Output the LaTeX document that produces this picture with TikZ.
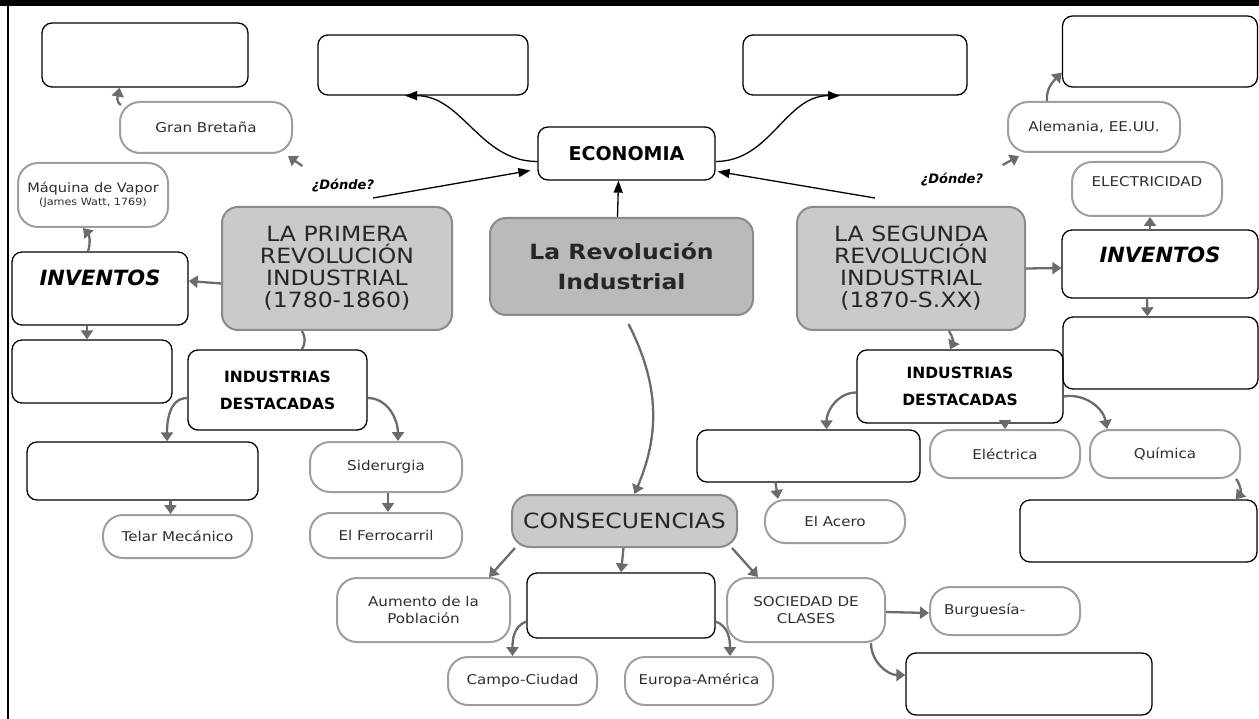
\documentclass[tikz,border=0pt]{standalone}
\usepackage{fontspec}
\setmainfont{DejaVu Sans}
\newfontfamily\widefont{DejaVu Sans}[FakeStretch=1.12]
\usetikzlibrary{arrows.meta}
\definecolor{boxgray}{HTML}{CACACA}
\definecolor{maingray}{HTML}{BABABA}
\definecolor{edgegray}{HTML}{8A8A8A}
\definecolor{linegray}{HTML}{6B6B6B}
\definecolor{pale}{HTML}{9E9E9E}
\definecolor{ink}{HTML}{2E2E2E}

\begin{document}
\begin{tikzpicture}[x=1pt,y=1pt]
\useasboundingbox (0,0) rectangle (1259,-719);
\fill (0,0) rectangle (1259,-6);
\draw[line width=2.5pt] (8,-6) -- (8,-719);
\tikzstyle{every node} = [inner sep=0pt, align=center, rounded corners=10pt]
\tikzstyle{blank} = [draw=black, line width=1.3pt]
\tikzstyle{pill} = [draw=pale, line width=2pt, rounded corners=20pt, text=ink, font=\widefont\fontsize{13.5}{17}\selectfont]
\tikzstyle{main} = [draw=edgegray, line width=2pt, fill=boxgray, rounded corners=16pt, text=black!85, font=\widefont\fontsize{21}{22}\selectfont]
\tikzstyle{head} = [blank, font=\bfseries\fontsize{15.5}{27}\selectfont]
\tikzstyle{inv} = [blank, font=\bfseries\itshape\fontsize{21}{24}\selectfont]
\tikzstyle{grayarrow} = [draw=linegray, line width=2.3pt, -{Triangle[length=9pt,width=12pt]}]
\tikzstyle{blackarrow} = [draw=black, line width=1.3pt, -{Triangle[length=12pt,width=9pt]}]
% top row
\node[blank, minimum width=206pt, minimum height=64pt] (1) at (145,-55) {};
\node[blank, minimum width=210pt, minimum height=60pt] (2) at (423,-65) {};
\node[blank, minimum width=224pt, minimum height=60pt] (3) at (855,-65) {};
\node[blank, minimum width=195pt, minimum height=71pt] (4) at (1160,-51.5) {};
\node[pill, minimum width=172pt, minimum height=51pt] (5) at (206,-127.5) {Gran Bretaña};
\node[pill, minimum width=150pt, minimum height=64pt, font=\widefont\fontsize{13}{13}\selectfont] (6) at (93,-195) {Máquina de Vapor\\{\fontsize{10}{12}\selectfont (James Watt, 1769)}};
\node[blank, minimum width=177pt, minimum height=53pt, font=\bfseries\fontsize{19}{22}\selectfont] (7) at (626.5,-153.5) {ECONOMIA};
\node[pill, minimum width=172pt, minimum height=50pt] (8) at (1094,-127) {Alemania, EE.UU.};
\node[pill, minimum width=150pt, minimum height=54pt, font=\widefont\fontsize{13.5}{17}\selectfont] (9) at (1147,-189) {\raisebox{2pt}[0pt][0pt]{ELECTRICIDAD}};
% revolutions
\node[main, minimum width=230pt, minimum height=123pt] (10) at (337,-268.5) {LA PRIMERA\\REVOLUCIÓN\\INDUSTRIAL\\(1780-1860)};
\node[main, fill=maingray, minimum width=263pt, minimum height=97pt, font=\widefont\bfseries\fontsize{21}{30}\selectfont] (11) at (621.5,-266.5) {La Revolución\\Industrial};
\node[main, minimum width=228pt, minimum height=123pt] (12) at (911,-268.5) {LA SEGUNDA\\REVOLUCIÓN\\INDUSTRIAL\\(1870-S.XX)};
\node[inv, minimum width=176pt, minimum height=73pt] (13) at (100,-288.5) {\raisebox{3pt}[0pt][0pt]{INVENTOS}};
\node[inv, minimum width=196pt, minimum height=68pt] (14) at (1160,-264) {\raisebox{1.5pt}[0pt][0pt]{INVENTOS}};
\node[blank, minimum width=160pt, minimum height=63pt] (15) at (92,-371.5) {};
\node[blank, minimum width=195pt, minimum height=72pt] (16) at (1160.5,-353) {};
% industries
\node[head, minimum width=179pt, minimum height=80pt] (17) at (277.5,-390) {INDUSTRIAS\\DESTACADAS};
\node[head, minimum width=206pt, minimum height=73pt] (18) at (960,-386.5) {INDUSTRIAS\\DESTACADAS};
\node[blank, minimum width=231pt, minimum height=58pt] (19) at (142.5,-471) {};
\node[pill, minimum width=152pt, minimum height=50pt] (20) at (386,-467) {Siderurgia};
\node[pill, minimum width=149pt, minimum height=43pt] (21) at (177.5,-536.5) {Telar Mecánico};
\node[pill, minimum width=152pt, minimum height=45pt] (22) at (386,-535.5) {El Ferrocarril};
\node[blank, minimum width=223pt, minimum height=52pt] (23) at (808.5,-456) {};
\node[pill, minimum width=150pt, minimum height=48pt] (24) at (1005,-454) {Eléctrica};
\node[pill, minimum width=150pt, minimum height=48pt] (25) at (1165,-454) {Química};
\node[pill, minimum width=140pt, minimum height=43pt] (26) at (835,-521.5) {El Acero};
\node[blank, minimum width=237pt, minimum height=62pt] (27) at (1138.5,-531) {};
% consequences
\node[main, minimum width=225pt, minimum height=52pt, rounded corners=18pt] (28) at (624.5,-521) {CONSECUENCIAS};
\node[pill, minimum width=173pt, minimum height=64pt] (29) at (423.5,-610) {Aumento de la\\Población};
\node[blank, minimum width=188pt, minimum height=65pt] (30) at (621,-605.5) {};
\node[pill, minimum width=158pt, minimum height=64pt] (31) at (806,-610) {SOCIEDAD DE\\CLASES};
\node[pill, minimum width=150pt, minimum height=48pt, text width=122pt, align=left] (32) at (1005,-611) {Burguesía-};
\node[pill, minimum width=149pt, minimum height=48pt] (33) at (522.5,-681) {Campo-Ciudad};
\node[pill, minimum width=148pt, minimum height=48pt] (34) at (699,-681) {Europa-América};
\node[blank, minimum width=246pt, minimum height=62pt] (35) at (1029,-684) {};
\tikzstyle{every node} = []
\node[font=\bfseries\itshape\fontsize{13}{15}\selectfont] (36) at (343,-186) {¿Dónde?};
\node[font=\bfseries\itshape\fontsize{13}{15}\selectfont] (37) at (952,-180) {¿Dónde?};
% economia
\draw[blackarrow] ([yshift=-8pt]7.west) to[out=180,in=0] ([xshift=-18pt]2.south);
\draw[blackarrow] ([yshift=-8pt]7.east) to[out=0,in=180] ([xshift=-15pt]3.south);
\draw[blackarrow] ([xshift=-4pt]11.north) -- ([xshift=-8pt]7.south);
\draw[blackarrow] ([yshift=8pt]10.60) -- ([shift={(-7pt,-17pt)}]7.west);
\draw[blackarrow] ([yshift=8pt]12.120) -- ([shift={(2pt,-18pt)}]7.east);
% first revolution
\draw[grayarrow] ([shift={(-6pt,10pt)}]36.north west) -- ([shift={(-5pt,-2pt)}]5.south east);
\draw[grayarrow] ([xshift=2pt,yshift=-4pt]5.north west) to[out=150,in=-100] ([xshift=78pt]1.south west);
\draw[grayarrow] ([yshift=-15pt]10.west) -- ([yshift=7.5pt]13.east);
\draw[grayarrow] ([xshift=-12pt]13.north) to[bend right=30] ([xshift=-10pt]6.south);
\draw[grayarrow] ([xshift=-13pt]13.south) -- ([xshift=-5pt]15.north);
\draw[draw=linegray, line width=2.3pt] ([xshift=-35pt]10.south) to[bend left=30] ([xshift=24.5pt]17.north);
\draw[grayarrow] ([yshift=-8pt]17.west) to[out=180,in=90] ([xshift=24.5pt]19.north);
\draw[grayarrow] ([yshift=-8pt]17.east) to[out=0,in=90] ([xshift=12pt]20.north);
\draw[grayarrow] ([xshift=28pt]19.south) -- ([xshift=-7pt]21.north);
\draw[grayarrow] ([xshift=2pt]20.south) -- ([xshift=2pt]22.north);
% second revolution
\draw[grayarrow] ([shift={(16pt,5pt)}]37.north east) -- ([shift={(12pt,-3pt)}]8.south west);
\draw[grayarrow] ([xshift=40pt]8.north west) to[out=95,in=-135] ([yshift=15pt]4.south west);
\draw[grayarrow] (12.east) -- ([yshift=-4pt]14.west);
\draw[grayarrow] ([xshift=-10pt]14.north) -- ([xshift=3pt]9.south);
\draw[grayarrow] ([xshift=-13pt]14.south) -- ([xshift=-13pt]16.north);
\draw[grayarrow] ([xshift=38pt]12.south) to[bend left=30] ([xshift=-10pt]18.north);
\draw[grayarrow] ([yshift=-6pt]18.west) to[out=180,in=90] ([xshift=18pt]23.north);
\draw[grayarrow] ([xshift=45pt]18.south) -- (24.north);
\draw[grayarrow] ([yshift=-10pt]18.east) to[out=10,in=100] ([xshift=-58pt]25.north);
\draw[grayarrow] ([xshift=-5pt]25.south east) to[bend left=40] ([xshift=-22pt]27.north east);
\draw[grayarrow] ([xshift=-33pt]23.south) -- ([xshift=-57pt]26.north);
% consequences
\draw[grayarrow] ([yshift=-8pt,xshift=7pt]11.south) to[bend left=25] ([xshift=10pt]28.north);
\draw[grayarrow] ([xshift=4pt]28.south west) -- ([xshift=-22pt]29.north east);
\draw[grayarrow] ([xshift=-1pt]28.south) -- (30.north);
\draw[grayarrow] ([xshift=-6pt]28.south east) -- ([xshift=-48pt]31.north);
\draw[grayarrow] ([yshift=-16pt]30.west) to[out=200,in=90] ([xshift=-10pt]33.north);
\draw[grayarrow] ([yshift=-16pt]30.east) to[out=-20,in=90] ([xshift=31pt]34.north);
\draw[grayarrow] ([yshift=-2pt]31.east) -- ([yshift=-2pt]32.west);
\draw[grayarrow] ([xshift=-15pt]31.south east) to[out=-90,in=180] ([yshift=9pt]35.west);
\end{tikzpicture}
\end{document}
